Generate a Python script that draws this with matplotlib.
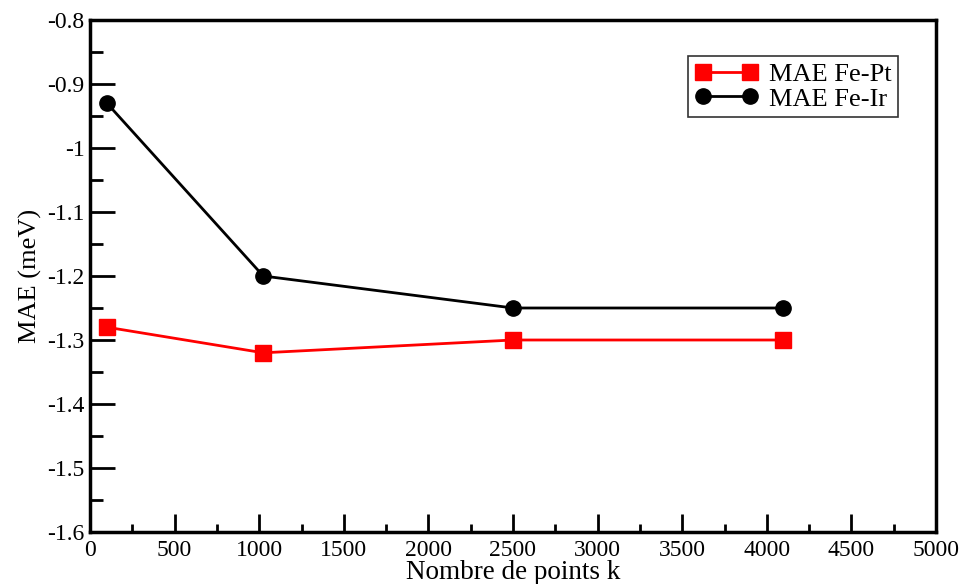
import numpy as np
import matplotlib.pyplot as plt
from matplotlib.ticker import MultipleLocator

kpoints = [100, 1024, 2500, 4096]
mae_fept = [-1.28, -1.32, -1.30, -1.30]
mae_feir = [-0.93, -1.20, -1.25, -1.25]
xticks = [0, 500, 1000, 1500, 2000, 2500, 3000, 3500, 4000, 4500, 5000]
yticks = [-1.6, -1.5, -1.4, -1.3, -1.2, -1.1, -1.0, -0.9, -0.8]
ylabels = ['-1.6', '-1.5', '-1.4', '-1.3', '-1.2', '-1.1', '-1', '-0.9', '-0.8']

plt.rcParams['font.family'] = ['Liberation Serif', 'DejaVu Serif']

fig = plt.figure(figsize=(9.62, 5.84), dpi=100)
ax = fig.add_axes([90/962, 1-532/584, (936-90)/962, (532-20)/584])

ax.plot(kpoints, mae_fept, color='red', lw=2, marker='s', ms=11, label='MAE Fe-Pt')
ax.plot(kpoints, mae_feir, color='black', lw=2, marker='o', ms=11, label='MAE Fe-Ir')

ax.set_xlim(0, 5000)
ax.set_ylim(-1.6, -0.8)
ax.set_xticks(xticks)
ax.set_yticks(yticks)
ax.set_yticklabels(ylabels)
ax.xaxis.set_minor_locator(MultipleLocator(250))
ax.yaxis.set_minor_locator(MultipleLocator(0.05))
ax.tick_params(which='major', direction='in', length=18, width=2, labelsize=17, pad=4)
ax.tick_params(which='minor', direction='in', length=9, width=2)
ax.tick_params(axis='x', which='major', length=13, pad=6)
ax.tick_params(axis='x', which='minor', length=6)
for s in ax.spines.values():
    s.set_linewidth(2.5)

ax.set_xlabel('Nombre de points k', fontsize=19.5, labelpad=-1)
ax.set_ylabel('MAE (meV)', fontsize=19, labelpad=4)

leg = ax.legend(loc='upper right', bbox_to_anchor=(0.955, 0.93), fontsize=19,
                frameon=True, fancybox=False, edgecolor='black', handlelength=2.4,
                numpoints=2, borderpad=0.25, labelspacing=0.05, handletextpad=0.4,
                borderaxespad=0)
leg.get_frame().set_linewidth(1.2)

fig.savefig('out.png', dpi=100)
